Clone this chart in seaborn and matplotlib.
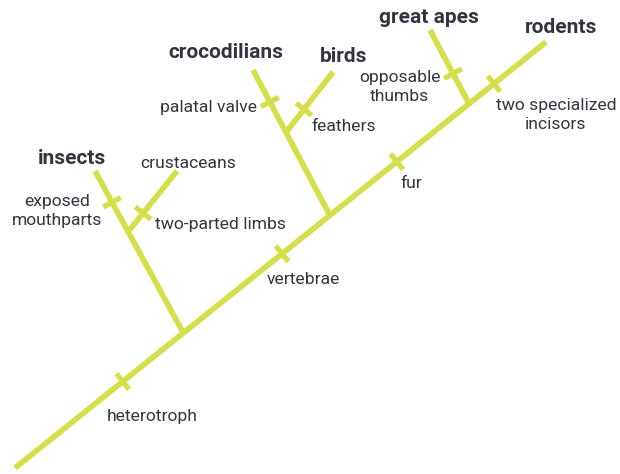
import matplotlib
matplotlib.use('Agg')
import matplotlib.pyplot as plt
import seaborn as sns
import numpy as np
import pandas as pd

# tree: each branch starts on a parent branch (at a fraction of its length) and ends at a tip
branch_names = ['main', 'insects', 'crustaceans', 'crocodilians', 'birds', 'great apes']
branch_parent = [None, 'main', 'insects', 'main', 'crocodilians', 'main']
branch_start = [0.0, 0.317, 0.625, 0.593, 0.571, 0.855]
tip_x = [546, 95, 177, 253, 333, 430]
tip_y = [42, 171, 171, 70, 72, 30]
root_xy = (15, 468)

# shared characters: which branch and where along it
trait_names = ['heterotroph', 'vertebrae', 'fur', 'two specialized\nincisors',
               'exposed\nmouthparts', 'two-parted limbs', 'palatal valve',
               'feathers', 'opposable\nthumbs']
trait_branch = ['main', 'main', 'main', 'main', 'insects', 'crustaceans',
                'crocodilians', 'birds', 'great apes']
trait_pos = [0.203, 0.503, 0.719, 0.902, 0.807, 0.306, 0.78, 0.383, 0.41]

# layout for the text labels
bold_labels = {'rodents': (561, 27), 'insects': (72, 158), 'crocodilians': (226, 52),
               'birds': (344, 56), 'great apes': (429, 17)}
plain_tip_labels = {'crustaceans': (188, 163)}
trait_label_xy = [(152, 417, 'center'), (303, 279, 'center'), (411, 183, 'center'),
                  (556, 115, 'center'), (57, 211, 'center'), (155, 224, 'left'),
                  (257, 107, 'right'), (311, 126, 'left'), (400, 87, 'center')]

GREEN = '#d5df4c'
INK = '#34343f'

# work out branch end points
ends = {}
for name, parent, s, tx, ty in zip(branch_names, branch_parent, branch_start, tip_x, tip_y):
    if parent is None:
        p0 = np.array(root_xy, dtype=float)
    else:
        a, b = ends[parent]
        p0 = a + s * (b - a)
    ends[name] = (p0, np.array([tx, ty], dtype=float))

rows = []
for name in branch_names:
    a, b = ends[name]
    rows.append({'seg': name, 'x': a[0], 'y': a[1]})
    rows.append({'seg': name, 'x': b[0], 'y': b[1]})
branches = pd.DataFrame(rows)

tick_half = 10
rows = []
for i, (br, t) in enumerate(zip(trait_branch, trait_pos)):
    a, b = ends[br]
    c = a + t * (b - a)
    d = (b - a) / np.linalg.norm(b - a)
    n = np.array([-d[1], d[0]])
    for p in (c - tick_half * n, c + tick_half * n):
        rows.append({'seg': i, 'x': p[0], 'y': p[1]})
ticks = pd.DataFrame(rows)

fig = plt.figure(figsize=(6.2, 4.74), dpi=100)
ax = fig.add_axes([0, 0, 1, 1])

sns.lineplot(data=branches, x='x', y='y', units='seg', estimator=None, sort=False,
             color=GREEN, lw=4.1, ax=ax, solid_capstyle='butt')
sns.lineplot(data=ticks, x='x', y='y', units='seg', estimator=None, sort=False,
             color=GREEN, lw=3.8, ax=ax, solid_capstyle='butt')

norm_font = ['Roboto', 'DejaVu Sans']
for (x, y, ha), label in zip(trait_label_xy, trait_names):
    ax.text(x, y, label, ha=ha, va='center', fontsize=12.6, color=INK,
            family=norm_font, linespacing=1.4, multialignment='center')

for label, (x, y) in plain_tip_labels.items():
    ax.text(x, y, label, ha='center', va='center', fontsize=12.6, color=INK,
            family=norm_font)

for label, (x, y) in bold_labels.items():
    ax.text(x, y, label, ha='center', va='center', fontsize=15, color=INK,
            family=['Roboto', 'DejaVu Sans'], fontweight='bold')

ax.set_xlim(0, 620)
ax.set_ylim(474, 0)
ax.axis('off')

fig.savefig('out.png', dpi=100)
plt.close(fig)
